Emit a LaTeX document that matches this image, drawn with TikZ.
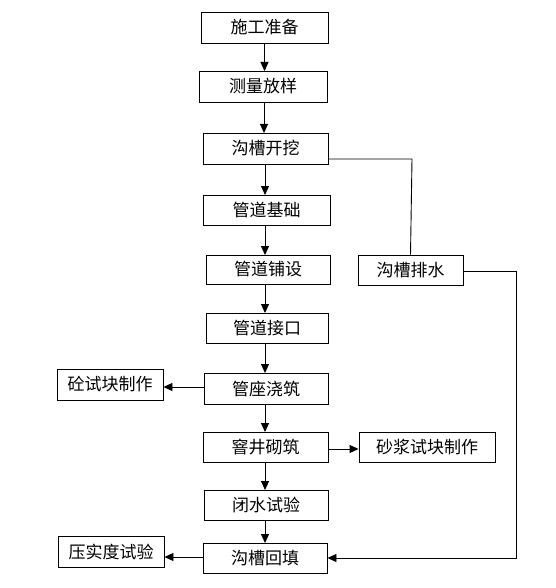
\documentclass[tikz,border=0pt]{standalone}
\usepackage{fontspec}
\newfontfamily\cjk{Noto Sans CJK SC}
\usetikzlibrary{arrows.meta}
\begin{document}
\begin{tikzpicture}[x=1pt,y=-1pt,
  box/.style={draw=black,line width=0.9pt,fill=white,inner sep=0pt,font=\cjk\fontsize{17}{20}\selectfont,text=black},
  conn/.style={draw=black,line width=0.9pt},
  arr/.style={conn,-{Triangle[width=8pt,length=9pt]}}]
\useasboundingbox (0,0) rectangle (555,588);
\node[box,minimum width=127pt,minimum height=31pt] (a) at (264.5,27.5) {施工准备};
\node[box,minimum width=128pt,minimum height=31pt] (b) at (263,86.5) {测量放样};
\node[box,minimum width=125pt,minimum height=31pt] (c) at (265.5,148.5) {沟槽开挖};
\node[box,minimum width=127pt,minimum height=30pt] (d) at (266.5,210) {管道基础};
\node[box,minimum width=124pt,minimum height=29pt] (e) at (268,269.5) {管道铺设};
\node[box,minimum width=105pt,minimum height=30pt] (f) at (410.5,270) {沟槽排水};
\node[box,minimum width=122pt,minimum height=30pt] (g) at (267,328) {管道接口};
\node[box,minimum width=124pt,minimum height=31pt] (h) at (266,388.5) {管座浇筑};
\node[box,minimum width=106pt,minimum height=31pt] (i) at (110,384.5) {砼试块制作};
\node[box,minimum width=125pt,minimum height=30pt] (j) at (265.5,447) {窨井砌筑};
\node[box,minimum width=136pt,minimum height=30pt] (k) at (427,447) {砂浆试块制作};
\node[box,minimum width=124pt,minimum height=30pt] (l) at (266,505) {闭水试验};
\node[box,minimum width=124pt,minimum height=30pt] (m) at (265,558) {沟槽回填};
\node[box,minimum width=106pt,minimum height=31pt] (n) at (111,551.5) {压实度试验};
\coordinate (ca) at (412,159);
\coordinate (fr) at (516,271);
% main chain
\draw[arr] (264.5,43) -- (264.5,71);
\draw[arr] (264,102) -- (264,133);
\draw[arr] (265,164) -- (265,195);
\draw[arr] (265,225) -- (265,255);
\draw[arr] (265,284) -- (265,313);
\draw[arr] (265,343) -- (265,373);
\draw[arr] (265,404) -- (265,432);
\draw[arr] (265,462) -- (265,490);
\draw[arr] (265,520) -- (265,543);
% side branches
\draw[conn] (c.east |- ca) -- (ca) -- (f.north);
\draw[arr] (f.east |- fr) -- (fr) -- (fr |- m.east) -- (m.east);
\draw[arr] (h.west |- 0,387) -- (i.east |- 0,387);
\draw[arr] (j.east |- 0,449) -- (k.west |- 0,449);
\draw[arr] (m.west |- 0,557) -- (n.east |- 0,557);
\end{tikzpicture}
\end{document}
